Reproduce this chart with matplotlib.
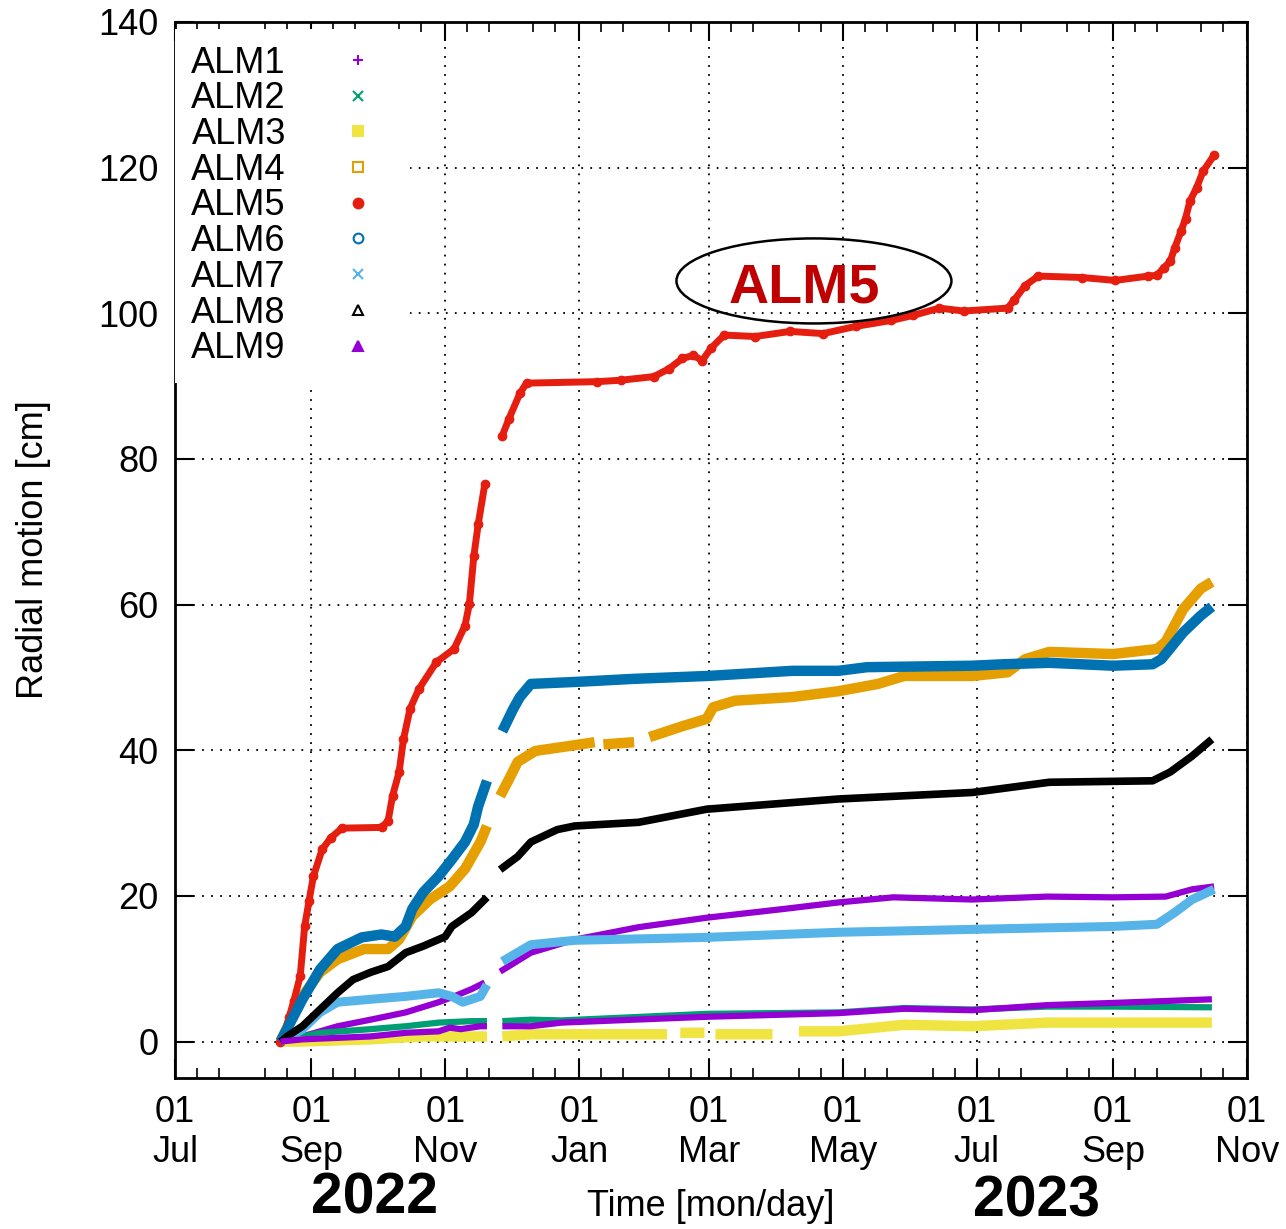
import numpy as np
import pandas as pd
import matplotlib
matplotlib.use("Agg")
import matplotlib.pyplot as plt
import matplotlib.dates as mdates
from matplotlib.lines import Line2D
from matplotlib.patches import Ellipse

plt.rcParams['font.family'] = ['Liberation Sans', 'DejaVu Sans']
nan = np.nan

# values (cm), gaps marked with nan
dates1 = ["2022-08-18", "2022-08-28", "2022-09-13", "2022-09-28", "2022-10-14", "2022-10-29", "2022-11-05",
          "2022-11-13", "2022-11-19", "2022-11-23", "2022-11-26", "2022-12-10", "2022-12-30", "2023-01-28",
          "2023-02-28", "2023-04-04", "2023-04-29", "2023-05-24", "2023-06-29", "2023-08-02", "2023-09-01",
          "2023-09-25", "2023-10-07", "2023-10-17"]
vals1 = [0.0, 0.7, 2.1, 3.0, 4.0, 5.4, 6.2, 7.2, 8.1, nan, 9.6, 12.2, 14.0, 15.7, 17.0, 18.2, 19.1, 19.8,
         19.5, 19.9, 19.8, 19.9, 20.9, 21.3]

dates2 = ["2022-08-18", "2022-09-05", "2022-09-28", "2022-10-14", "2022-10-29", "2022-11-13", "2022-11-20",
          "2022-11-23", "2022-11-27", "2022-12-10", "2022-12-24", "2023-02-28", "2023-04-29", "2023-05-29",
          "2023-06-29", "2023-08-02", "2023-09-01", "2023-10-16"]
vals2 = [0.0, 1.2, 1.7, 2.1, 2.6, 2.8, 2.8, nan, 2.8, 3.0, 2.9, 3.8, 4.0, 4.6, 4.4, 4.8, 4.8, 4.7]

dates3 = ["2022-08-18", "2022-08-28", "2022-09-28", "2022-10-22", "2022-11-20", "2022-11-23", "2022-11-27",
          "2022-12-10", "2022-12-24", "2023-02-10", "2023-02-13", "2023-02-16", "2023-02-27", "2023-03-02",
          "2023-03-04", "2023-03-30", "2023-04-05", "2023-04-11", "2023-04-29", "2023-05-29", "2023-06-29",
          "2023-08-02", "2023-09-01", "2023-10-16"]
vals3 = [0.0, 0.0, 0.3, 0.7, 0.7, nan, 0.7, 1.0, 1.0, 1.0, nan, 1.2, 1.2, nan, 1.0, 1.0, nan, 1.4, 1.4,
         2.3, 2.1, 2.6, 2.6, 2.6]

dates4 = ["2022-08-18", "2022-08-28", "2022-09-05", "2022-09-13", "2022-09-25", "2022-10-06", "2022-10-11",
          "2022-10-17", "2022-10-25", "2022-11-03", "2022-11-10", "2022-11-17", "2022-11-20", "2022-11-23",
          "2022-11-26", "2022-11-30", "2022-12-04", "2022-12-12", "2022-12-28", "2023-01-08", "2023-01-10",
          "2023-01-12", "2023-01-26", "2023-01-30", "2023-02-02", "2023-02-17", "2023-02-28", "2023-03-03",
          "2023-03-13", "2023-04-08", "2023-04-29", "2023-05-17", "2023-05-29", "2023-06-29", "2023-07-15",
          "2023-07-23", "2023-08-03", "2023-09-01", "2023-09-21", "2023-09-25", "2023-10-03", "2023-10-11",
          "2023-10-16"]
vals4 = [0.0, 6.2, 9.5, 11.3, 12.7, 12.7, 14.0, 17.2, 19.5, 21.3, 23.7, 27.4, 29.6, nan, 33.7, 36.0, 38.4,
         39.9, 40.6, 41.1, nan, 40.8, 41.1, nan, 41.8, 43.3, 44.3, 45.9, 46.8, 47.3, 48.1, 49.1, 50.2, 50.2,
         50.7, 52.5, 53.5, 53.2, 53.9, 54.9, 59.4, 62.2, 63.1]

dates5 = ["2022-08-18", "2022-08-20", "2022-08-22", "2022-08-24", "2022-08-27", "2022-08-29", "2022-08-31",
          "2022-09-02", "2022-09-06", "2022-09-10", "2022-09-15", "2022-10-03", "2022-10-06", "2022-10-08",
          "2022-10-11", "2022-10-13", "2022-10-16", "2022-10-20", "2022-10-28", "2022-11-05", "2022-11-10",
          "2022-11-12", "2022-11-14", "2022-11-16", "2022-11-19", "2022-11-23", "2022-11-27", "2022-11-30",
          "2022-12-05", "2022-12-08", "2023-01-09", "2023-01-20", "2023-02-04", "2023-02-11", "2023-02-17",
          "2023-02-22", "2023-02-26", "2023-03-02", "2023-03-08", "2023-03-22", "2023-04-07", "2023-04-22",
          "2023-05-07", "2023-05-23", "2023-06-02", "2023-06-14", "2023-06-25", "2023-07-15", "2023-07-18",
          "2023-07-23", "2023-07-29", "2023-08-18", "2023-09-02", "2023-09-17", "2023-09-21", "2023-09-24",
          "2023-09-27", "2023-09-29", "2023-10-02", "2023-10-04", "2023-10-06", "2023-10-09", "2023-10-12",
          "2023-10-17"]
vals5 = [0.0, 1.4, 3.4, 5.5, 9.0, 15.8, 19.3, 22.7, 26.4, 28.0, 29.3, 29.4, 30.3, 33.7, 37.0, 41.5, 45.7,
         48.4, 52.1, 53.9, 57.1, 60.1, 66.6, 71.0, 76.5, nan, 83.2, 85.5, 89.0, 90.4, 90.6, 90.8, 91.3, 92.4,
         93.8, 94.2, 93.5, 95.2, 97.0, 96.8, 97.5, 97.2, 98.2, 99.0, 99.7, 100.7, 100.3, 100.7, 101.8, 103.8,
         105.1, 104.9, 104.5, 105.1, 105.2, 106.2, 107.1, 108.9, 111.3, 113.0, 115.4, 117.2, 119.5, 121.7]

dates6 = ["2022-08-18", "2022-08-28", "2022-09-05", "2022-09-13", "2022-09-24", "2022-10-03", "2022-10-09",
          "2022-10-14", "2022-10-17", "2022-10-22", "2022-10-29", "2022-11-04", "2022-11-10", "2022-11-14",
          "2022-11-16", "2022-11-20", "2022-11-23", "2022-11-27", "2022-12-02", "2022-12-05", "2022-12-10",
          "2023-01-01", "2023-01-26", "2023-03-01", "2023-04-08", "2023-04-29", "2023-05-12", "2023-06-29",
          "2023-07-13", "2023-08-03", "2023-09-01", "2023-09-19", "2023-09-23", "2023-10-03", "2023-10-11",
          "2023-10-16"]
vals6 = [0.0, 5.8, 9.9, 12.7, 14.3, 14.7, 14.4, 15.8, 18.2, 20.5, 22.7, 25.0, 27.4, 29.8, 32.3, 35.8, nan,
         42.6, 45.7, 47.3, 49.1, 49.4, 49.8, 50.2, 50.9, 50.9, 51.4, 51.6, 51.8, 52.0, 51.6, 51.8, 52.5, 56.2,
         58.5, 59.7]

dates7 = ["2022-08-18", "2022-08-28", "2022-09-05", "2022-09-13", "2022-09-28", "2022-10-14", "2022-10-29",
          "2022-11-04", "2022-11-09", "2022-11-17", "2022-11-20", "2022-11-23", "2022-11-27", "2022-12-10",
          "2022-12-30", "2023-02-28", "2023-04-29", "2023-06-29", "2023-09-01", "2023-09-21", "2023-09-29",
          "2023-10-07", "2023-10-17"]
vals7 = [0.0, 1.7, 4.0, 5.4, 5.8, 6.2, 6.7, 6.2, 5.4, 6.2, 7.8, nan, 11.0, 13.3, 13.9, 14.3, 15.0, 15.4,
         15.8, 16.1, 17.7, 19.5, 20.9]

dates8 = ["2022-08-18", "2022-08-21", "2022-08-28", "2022-09-05", "2022-09-13", "2022-09-20", "2022-09-28",
          "2022-10-06", "2022-10-14", "2022-10-22", "2022-11-01", "2022-11-04", "2022-11-13", "2022-11-20",
          "2022-11-23", "2022-11-26", "2022-12-04", "2022-12-10", "2022-12-22", "2022-12-30", "2023-01-28",
          "2023-02-28", "2023-04-29", "2023-06-29", "2023-08-03", "2023-09-19", "2023-09-27", "2023-10-07",
          "2023-10-16"]
vals8 = [0.0, 0.7, 2.1, 4.4, 6.7, 8.5, 9.5, 10.3, 12.2, 13.1, 14.4, 15.8, 17.7, 19.8, nan, 23.6, 25.4, 27.4,
         29.1, 29.6, 30.1, 31.9, 33.3, 34.2, 35.6, 35.8, 37.0, 39.2, 41.5]

dates9 = ["2022-08-18", "2022-08-28", "2022-09-28", "2022-10-14", "2022-10-29", "2022-11-03", "2022-11-08",
          "2022-11-17", "2022-11-20", "2022-11-23", "2022-11-27", "2022-12-10", "2022-12-24", "2023-02-28",
          "2023-04-29", "2023-05-29", "2023-06-29", "2023-08-02", "2023-09-01", "2023-10-16"]
vals9 = [0.0, 0.3, 0.7, 1.2, 1.4, 1.9, 1.7, 2.1, 2.1, nan, 2.1, 2.1, 2.6, 3.4, 3.9, 4.5, 4.3, 5.0, 5.3, 5.8]

names = ["ALM1", "ALM2", "ALM3", "ALM4", "ALM5", "ALM6", "ALM7", "ALM8", "ALM9"]
colors = ["#9400d3", "#009e73", "#f0e442", "#e69f00", "#e51e10", "#0072b2", "#56b4e9", "black", "#9400d3"]
markers = ["+", "x", "s", "s", "o", "o", "x", "^", "^"]
filled = [True, True, True, False, True, False, True, False, True]
widths = [4.5, 4.5, 7.5, 7.5, 5.0, 7.5, 6.5, 5.5, 4.5]
all_dates = [dates1, dates2, dates3, dates4, dates5, dates6, dates7, dates8, dates9]
all_vals = [vals1, vals2, vals3, vals4, vals5, vals6, vals7, vals8, vals9]

fig = plt.figure(figsize=(12.86, 12.29), dpi=100)
ax = fig.add_axes([0.1361, 0.1229, 0.8336, 0.8593])

for i in range(9):
    d = pd.to_datetime(all_dates[i])
    if names[i] == "ALM5":
        ax.plot(d, all_vals[i], color=colors[i], lw=widths[i], marker="o", ms=6,
                solid_capstyle="round", zorder=3)
    else:
        ax.plot(d, all_vals[i], color=colors[i], lw=widths[i], solid_capstyle="butt",
                solid_joinstyle="round", zorder=3)

ax.set_xlim(pd.Timestamp("2022-07-01"), pd.Timestamp("2023-11-01"))
ax.set_ylim(-5, 140)
ax.set_yticks(range(0, 141, 20))
ax.xaxis.set_major_locator(mdates.MonthLocator(bymonth=[1, 3, 5, 7, 9, 11]))
ax.xaxis.set_minor_locator(mdates.DayLocator(bymonthday=[11, 21]))
ax.xaxis.set_major_formatter(mdates.DateFormatter("%d\n%b"))

ax.tick_params(which="both", direction="in", top=True, right=True, labelsize=26)
ax.tick_params(which="major", length=14, width=1.5)
ax.tick_params(which="minor", length=7, width=1.2)
ax.tick_params(axis="x", pad=12)
ax.tick_params(axis="y", pad=12)
for s in ax.spines.values():
    s.set_linewidth(2)
ax.grid(True, which="major", color="black", linestyle=(0, (1, 4)), linewidth=1.3)

ax.set_ylabel("Radial motion [cm]", fontsize=26, labelpad=34)
fig.text(0.553, 0.018, "Time [mon/day]", ha="center", va="center", fontsize=26)

handles = []
for i in range(9):
    handles.append(Line2D([], [], linestyle="none", marker=markers[i], color=colors[i], ms=7,
                          mew=1.5, mfc=colors[i] if filled[i] else "none"))
leg = ax.legend(handles, names, loc="upper left", bbox_to_anchor=(0, 0.993), borderaxespad=0,
                borderpad=0.45, markerfirst=False, handlelength=2.0, handletextpad=1.0,
                labelspacing=0.02, fontsize=26, frameon=True, fancybox=False, framealpha=1,
                edgecolor="none", facecolor="white")
leg.set_zorder(5)

ax.add_patch(Ellipse((0.596, 0.7547), 0.2565, 0.0805, transform=ax.transAxes, fill=False,
                     edgecolor="black", lw=1.8, zorder=6))
ax.text(0.587, 0.7480, "ALM5", transform=ax.transAxes, ha="center", va="center", fontsize=40,
        fontweight="bold", color="#c00000", zorder=7)

fig.text(0.2916, 0.0252, "2022", ha="center", va="center", fontsize=41, fontweight="bold")
fig.text(0.8056, 0.0225, "2023", ha="center", va="center", fontsize=41, fontweight="bold")

fig.savefig("out.png", dpi=100)
